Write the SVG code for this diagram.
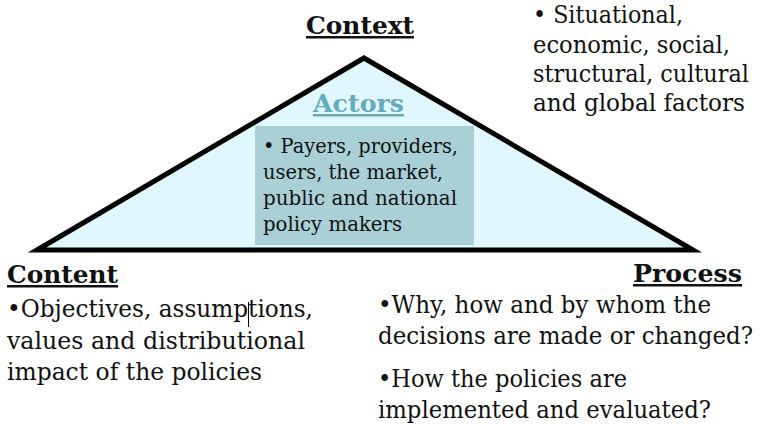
<svg xmlns="http://www.w3.org/2000/svg" width="761" height="424" viewBox="0 0 761 424">
  <style>
    text { font-family: "DejaVu Serif", "Liberation Serif", serif; fill: #111; }
    .title { font-weight: bold; font-size: 25px; text-decoration: underline; }
    .body { font-size: 24.5px; }
    .body.long { font-size: 23.3px; }
    .small { font-size: 20px; }
    .actors-title { fill: #66abbc; }
  </style>

  <!-- policy triangle -->
  <g id="triangle">
    <polygon points="37,250 364,58 693,250" fill="#e0f8fd" stroke="#000" stroke-width="5" stroke-linejoin="miter"/>
  </g>

  <!-- apex label -->
  <g id="context">
    <text class="title" x="306" y="34" textLength="108" lengthAdjust="spacingAndGlyphs">Context</text>
  </g>

  <!-- contextual factors -->
  <g id="context-factors">
    <text class="body" x="533" y="23" textLength="150" lengthAdjust="spacingAndGlyphs">• Situational,</text>
    <text class="body" x="533" y="52.5" textLength="197" lengthAdjust="spacingAndGlyphs">economic, social,</text>
    <text class="body long" x="533" y="81.5" textLength="216" lengthAdjust="spacingAndGlyphs">structural, cultural</text>
    <text class="body" x="533" y="110.5" textLength="212" lengthAdjust="spacingAndGlyphs">and global factors</text>
  </g>

  <!-- actors in the centre of the triangle -->
  <g id="actors">
    <text class="title actors-title" x="313" y="112" textLength="91" lengthAdjust="spacingAndGlyphs">Actors</text>
    <rect x="255" y="126" width="219" height="119" fill="#a9d0d5"/>
    <text class="small" x="263" y="153" textLength="195" lengthAdjust="spacingAndGlyphs">• Payers, providers,</text>
    <text class="small" x="263" y="179" textLength="180" lengthAdjust="spacingAndGlyphs">users, the market,</text>
    <text class="small" x="263" y="205" textLength="194" lengthAdjust="spacingAndGlyphs">public and national</text>
    <text class="small" x="263" y="231" textLength="139" lengthAdjust="spacingAndGlyphs">policy makers</text>
  </g>

  <!-- bottom-left corner -->
  <g id="content">
    <text class="title" x="7" y="283" textLength="111" lengthAdjust="spacingAndGlyphs">Content</text>
    <text class="body" x="7" y="317" textLength="306" lengthAdjust="spacingAndGlyphs">•Objectives, assumptions,</text>
    <line x1="248.5" y1="302" x2="248.5" y2="327" stroke="#000" stroke-width="1"/>
    <text class="body" x="7" y="348.5" textLength="298" lengthAdjust="spacingAndGlyphs">values and distributional</text>
    <text class="body" x="7" y="380" textLength="255" lengthAdjust="spacingAndGlyphs">impact of the policies</text>
  </g>

  <!-- bottom-right corner -->
  <g id="process">
    <text class="title" x="633" y="282" textLength="109" lengthAdjust="spacingAndGlyphs">Process</text>
    <text class="body" x="378" y="313" textLength="333" lengthAdjust="spacingAndGlyphs">•Why, how and by whom the</text>
    <text class="body long" x="378" y="344" textLength="375" lengthAdjust="spacingAndGlyphs">decisions are made or changed?</text>
    <text class="body" x="378" y="387" textLength="249" lengthAdjust="spacingAndGlyphs">•How the policies are</text>
    <text class="body" x="378" y="418" textLength="333" lengthAdjust="spacingAndGlyphs">implemented and evaluated?</text>
  </g>

  <g id="connectors"/>
</svg>
